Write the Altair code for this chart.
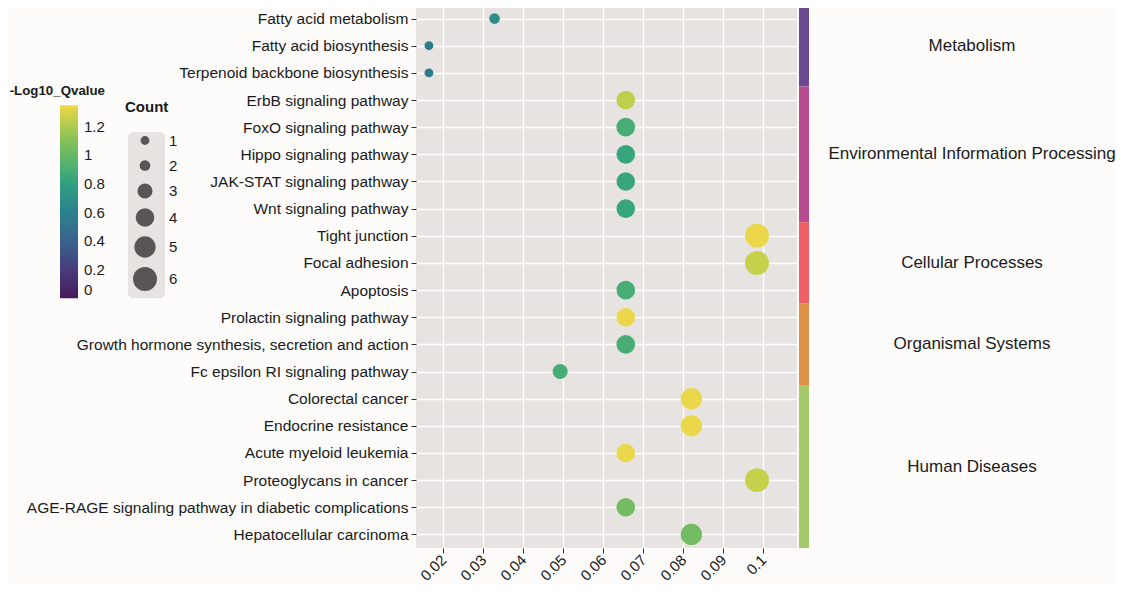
import altair as alt
import pandas as pd

# ---------------- data ----------------
pathways = [
    "Fatty acid metabolism",
    "Fatty acid biosynthesis",
    "Terpenoid backbone biosynthesis",
    "ErbB signaling pathway",
    "FoxO signaling pathway",
    "Hippo signaling pathway",
    "JAK-STAT signaling pathway",
    "Wnt signaling pathway",
    "Tight junction",
    "Focal adhesion",
    "Apoptosis",
    "Prolactin signaling pathway",
    "Growth hormone synthesis, secretion and action",
    "Fc epsilon RI signaling pathway",
    "Colorectal cancer",
    "Endocrine resistance",
    "Acute myeloid leukemia",
    "Proteoglycans in cancer",
    "AGE-RAGE signaling pathway in diabetic complications",
    "Hepatocellular carcinoma",
]
gene_ratio = [0.0328, 0.0164, 0.0164, 0.0656, 0.0656, 0.0656, 0.0656, 0.0656,
              0.0984, 0.0984, 0.0656, 0.0656, 0.0656, 0.0492, 0.0820, 0.0820,
              0.0656, 0.0984, 0.0656, 0.0820]
counts = [2, 1, 1, 4, 4, 4, 4, 4, 6, 6, 4, 4, 4, 3, 5, 5, 4, 6, 4, 5]
neg_log10_q = [0.68, 0.57, 0.54, 1.24, 0.89, 0.84, 0.84, 0.84, 1.34, 1.26,
               0.89, 1.34, 0.89, 0.89, 1.34, 1.34, 1.34, 1.26, 1.04, 1.04]

categories = ["Metabolism", "Environmental Information Processing",
              "Cellular Processes", "Organismal Systems", "Human Diseases"]
category_rows = [3, 5, 3, 3, 6]
category_colors = ["#6B4890", "#B94B8E", "#EE5E66", "#DF9149", "#A5CB68"]

x_ticks = [0.02, 0.03, 0.04, 0.05, 0.06, 0.07, 0.08, 0.09, 0.1]
q_ticks = [0, 0.2, 0.4, 0.6, 0.8, 1.0, 1.2]
count_ticks = [1, 2, 3, 4, 5, 6]

# ---------------- tables ----------------
df = pd.DataFrame({"pathway": pathways, "ratio": gene_ratio,
                   "count": counts, "q": neg_log10_q})

starts, ends, mids = [], [], []
acc = 0
for n in category_rows:
    starts.append(acc)
    ends.append(acc + n)
    mids.append(acc + n / 2)
    acc += n
cat_df = pd.DataFrame({"cat": categories, "start": starts, "end": ends,
                       "mid": mids, "col": category_colors})

FONT = "Liberation Sans"
TXT = "#1a1a1a"
W, H = 381, 543

# muted viridis-like palette as in the reference
q_palette = ["#47195A", "#48407F", "#3E6A8A", "#2F8C88", "#4AAE72", "#8CC257", "#F0D84A"]

points = alt.Chart(df).mark_circle(opacity=1).encode(
    x=alt.X("ratio:Q",
            scale=alt.Scale(domain=[0.01317, 0.1084], nice=False, zero=False),
            axis=alt.Axis(values=x_ticks, format=".2~f", title=None,
                          labelAngle=315, labelAlign="right", labelBaseline="middle",
                          labelFontSize=15, labelColor=TXT, labelPadding=4,
                          tickSize=5, tickColor="#333333", domain=False,
                          grid=True, gridColor="white", gridWidth=1.3)),
    y=alt.Y("pathway:N", sort=pathways,
            axis=alt.Axis(title=None, labelFontSize=15.5, labelColor=TXT, labelLimit=600,
                          labelPadding=3, tickSize=5, tickColor="#333333",
                          domain=False, grid=True, gridColor="white", gridWidth=1.3)),
    size=alt.Size("count:Q",
                  scale=alt.Scale(domain=count_ticks, range=[78, 113, 227, 346, 452, 573]),
                  legend=alt.Legend(title="Count", orient="none", legendX=-291, legendY=95,
                                    values=count_ticks, titleFontSize=15, titleFontWeight="bold",
                                    titleColor=TXT, titlePadding=18, labelFontSize=15,
                                    labelColor=TXT, symbolFillColor="#5A5555",
                                    symbolStrokeWidth=0, symbolType="circle", rowPadding=9,
                                    symbolOffset=8, labelOffset=12)),
    color=alt.Color("q:Q",
                    scale=alt.Scale(range=q_palette, domain=[0, 1.35], nice=False),
                    legend=alt.Legend(title="-Log10_Qvalue", orient="none", legendX=-406,
                                      legendY=79, type="gradient", values=q_ticks,
                                      format=".1~f",
                                      gradientLength=193, gradientThickness=18,
                                      gradientStrokeWidth=0, titleFontSize=13.3,
                                      titleFontWeight="bold", titleColor=TXT,
                                      titleAnchor="end", titlePadding=8,
                                      labelFontSize=15, labelColor=TXT, labelOverlap=False,
                                      labelOffset=6, direction="vertical")),
)

box = alt.Chart(pd.DataFrame({"k": [0]})).mark_rect(
    color="#E6E3E0", cornerRadius=5
).encode(x=alt.value(-288), x2=alt.value(-251), y=alt.value(127), y2=alt.value(293))

main = alt.layer(box, points).properties(
    width=W, height=H, view=alt.ViewBackground(fill="#E7E3E0", stroke=None))

yscale = alt.Scale(domain=[0, 20], reverse=True, nice=False, zero=False)
strip = alt.Chart(cat_df).mark_rect().encode(
    x=alt.value(0), x2=alt.value(10),
    y=alt.Y("start:Q", scale=yscale, axis=None),
    y2="end:Q",
    color=alt.Color("col:N", scale=None, legend=None),
)
labels = alt.Chart(cat_df).mark_text(fontSize=17, font=FONT, color=TXT,
                                     align="center", baseline="middle").encode(
    x=alt.value(173),
    y=alt.Y("mid:Q", scale=yscale, axis=None),
    text="cat:N",
)
right = alt.layer(strip, labels).properties(
    width=316, height=H, view=alt.ViewBackground(stroke=None))

chart = alt.hconcat(main, right, spacing=2).resolve_scale(
    color="independent", size="independent", x="independent", y="independent"
).properties(
    padding={"left": 2, "top": -3, "right": 0, "bottom": 0},
    background="#FDFCFB",
).configure(font=FONT).configure_view(stroke=None)

chart.save("out.html", embed_options={"renderer": "svg", "actions": False})
